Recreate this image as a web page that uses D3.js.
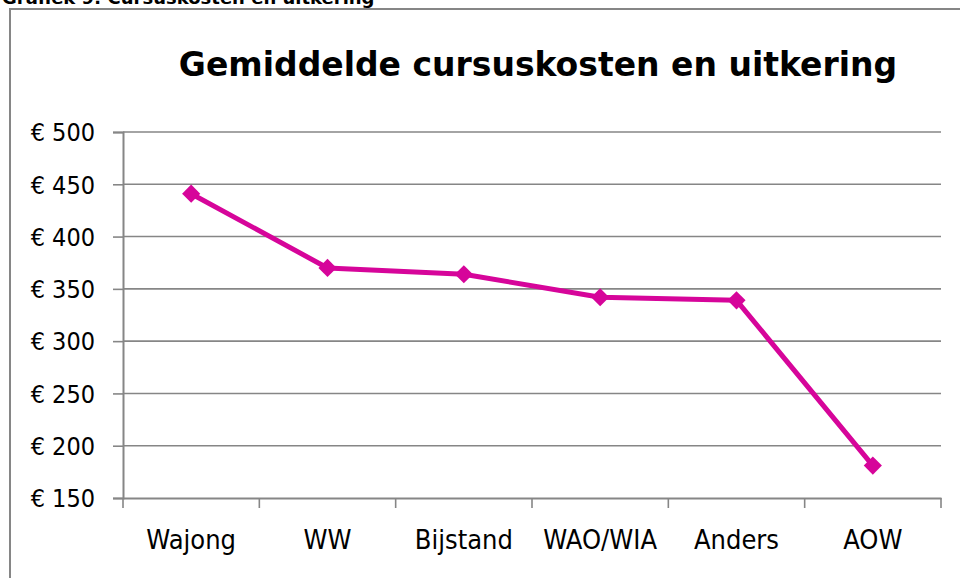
<!DOCTYPE html>
<html>
<head>
<meta charset="utf-8">
<script src="https://cdn.jsdelivr.net/npm/d3@7"></script>
<style>
  body { margin: 0; background: #fff; }
  svg { display: block; }
  .tick text { font-family: "DejaVu Sans Condensed", "DejaVu Sans", sans-serif; fill: #000; }
</style>
</head>
<body>
<script>
// data
var categories = ["Wajong", "WW", "Bijstand", "WAO/WIA", "Anders", "AOW"];
var values = [441, 370, 364, 342, 339, 181];
var yTicks = [150, 200, 250, 300, 350, 400, 450, 500];

var width = 960, height = 578;
var lineColor = "#d6059a";
var gridColor = "#868686";

var svg = d3.select("body").append("svg")
    .attr("width", width)
    .attr("height", height);

// caption above the frame, clipped by the top edge (as in the source)
svg.append("text")
    .attr("x", 2)
    .attr("y", 4)
    .attr("font-family", "DejaVu Sans, sans-serif")
    .attr("font-weight", "bold")
    .attr("font-size", 18)
    .text("Grafiek 9: Cursuskosten en uitkering");

// frame
svg.append("path")
    .attr("d", "M10," + height + "V9H" + width)
    .attr("fill", "none")
    .attr("stroke", gridColor)
    .attr("stroke-width", 2);

svg.append("text")
    .attr("x", 538)
    .attr("y", 76)
    .attr("text-anchor", "middle")
    .attr("font-family", "DejaVu Sans, sans-serif")
    .attr("font-weight", "bold")
    .attr("font-size", 33)
    .text("Gemiddelde cursuskosten en uitkering");

var x0 = 123, x1 = 941, yTop = 132, yBot = 498;

var x = d3.scaleBand().domain(categories).range([x0, x1]);
var y = d3.scaleLinear().domain([150, 500]).range([yBot, yTop]);

// gridlines
svg.append("g")
  .selectAll("line")
  .data(yTicks.slice(1))
  .enter().append("line")
    .attr("x1", x0).attr("x2", x1)
    .attr("y1", function(d) { return y(d); })
    .attr("y2", function(d) { return y(d); })
    .attr("stroke", gridColor)
    .attr("stroke-width", 1.6);

// y axis
var yAxis = svg.append("g")
    .attr("transform", "translate(" + x0 + ",0)")
    .call(d3.axisLeft(y).tickValues(yTicks).tickSize(10).tickPadding(18)
        .tickFormat(function(d) { return "\u20ac " + d; }));
yAxis.selectAll("text").attr("font-size", 25).attr("dy", "0.35em");

// x axis: ticks at category boundaries
var xAxis = svg.append("g")
    .attr("transform", "translate(0," + yBot + ")")
    .call(d3.axisBottom(x).tickSize(0).tickPadding(32));
xAxis.selectAll("text").attr("font-size", 27);
xAxis.append("g")
  .selectAll("line")
  .data(d3.range(categories.length + 1))
  .enter().append("line")
    .attr("x1", function(i) { return x0 + i * x.step(); })
    .attr("x2", function(i) { return x0 + i * x.step(); })
    .attr("y1", 0).attr("y2", 10)
    .attr("stroke", gridColor)
    .attr("stroke-width", 1.6);

svg.selectAll(".domain").attr("stroke", gridColor).attr("stroke-width", 2);
svg.selectAll(".tick line").attr("stroke", gridColor).attr("stroke-width", 1.6);

// series
var line = d3.line()
    .x(function(d, i) { return x(categories[i]) + x.bandwidth() / 2; })
    .y(function(d) { return y(d); });

svg.append("path")
    .datum(values)
    .attr("d", line)
    .attr("fill", "none")
    .attr("stroke", lineColor)
    .attr("stroke-width", 5)
    .attr("stroke-linejoin", "round");

svg.append("g")
  .selectAll("path")
  .data(values)
  .enter().append("path")
    .attr("transform", function(d, i) {
      return "translate(" + (x(categories[i]) + x.bandwidth() / 2) + "," + y(d) + ")";
    })
    .attr("d", d3.symbol().type(d3.symbolDiamond2).size(210))
    .attr("fill", lineColor);
</script>
</body>
</html>
